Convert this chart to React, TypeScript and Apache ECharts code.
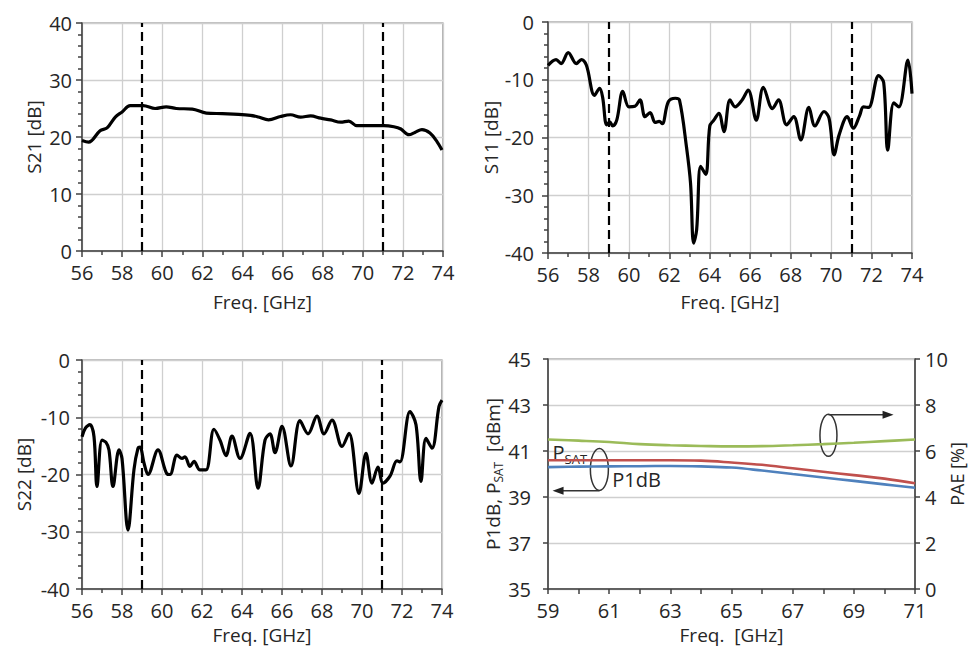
import React, { useEffect, useRef } from "react";
import * as echarts from "echarts";

// ---------- data ----------
const s21Freq = [56, 56.33, 56.9, 57.25, 57.66, 58.0, 58.4, 59.05, 59.65, 60.2, 60.7, 61.5, 62.2, 63.0, 63.55, 64.4, 64.8, 65.3, 65.9, 66.4, 66.9, 67.4, 67.9, 68.4, 68.9, 69.3, 69.7, 70.2, 71.05, 71.55, 71.9, 72.3, 72.6, 72.95, 73.35, 73.7, 73.95];
const s21Db = [19.4, 19.1, 21.1, 21.6, 23.5, 24.4, 25.5, 25.5, 25.0, 25.3, 25.0, 24.9, 24.2, 24.1, 24.0, 23.8, 23.5, 23.0, 23.6, 23.9, 23.5, 23.7, 23.3, 23.0, 22.6, 22.8, 22.0, 22.0, 22.0, 21.8, 21.4, 20.4, 20.8, 21.3, 20.7, 19.2, 17.7];

const s11Freq = [56, 56.4, 56.65, 57.0, 57.4, 57.65, 57.9, 58.3, 58.55, 58.7, 58.9, 59.05, 59.2, 59.4, 59.7, 60.0, 60.3, 60.55, 60.8, 61.05, 61.3, 61.5, 61.65, 61.95, 62.3, 62.5, 62.85, 63.05, 63.2, 63.35, 63.55, 63.8, 64.0, 64.2, 64.45, 64.7, 65.0, 65.25, 65.6, 65.9, 66.3, 66.65, 67.1, 67.4, 67.8, 68.15, 68.5, 68.9, 69.2, 69.65, 69.9, 70.15, 70.4, 70.8, 71.1, 71.4, 71.6, 71.85, 72.35, 72.6, 72.8, 73.1, 73.35, 73.8, 74];
const s11Db = [-7.5, -6.5, -7.2, -5.3, -7.2, -6.5, -7.5, -12.7, -11.5, -13, -17.8, -17.3, -18, -17, -12, -14.7, -14.6, -13.5, -16.4, -15.7, -17.4, -17.2, -17.6, -13.8, -13.2, -13.5, -21.7, -28, -38.3, -36, -25, -26.4, -18, -17, -15.8, -19, -13.5, -14.7, -13.5, -11.8, -17, -11.3, -15, -13.5, -17.8, -16.4, -20.4, -14.8, -18, -15.5, -16.7, -23, -19.5, -16.4, -18.4, -16.3, -14.7, -14.8, -9.3, -10.5, -22.2, -14, -14.7, -6.6, -12.4];

const s22Freq = [56, 56.17, 56.4, 56.6, 56.75, 57.0, 57.2, 57.35, 57.55, 57.85, 58.0, 58.3, 58.6, 58.8, 58.9, 59.1, 59.3, 59.8, 60.25, 60.4, 60.75, 61.0, 61.15, 61.4, 61.6, 61.9, 62.2, 62.6, 62.9, 63.2, 63.5, 63.9, 64.4, 64.8, 65.15, 65.4, 65.65, 66.0, 66.45, 66.9, 67.3, 67.75, 68.1, 68.5, 69.0, 69.35, 69.85, 70.2, 70.5, 70.8, 71.05, 71.4, 71.75, 71.9, 72.4, 72.7, 72.95, 73.2, 73.5, 73.85, 74];
const s22Db = [-13.4, -11.9, -11.3, -13.4, -22.1, -14, -14.4, -15.7, -22.1, -15.7, -17.2, -29.7, -19.1, -15.4, -15.2, -18, -20, -15.7, -19.9, -20, -16.6, -17.2, -16.9, -18.6, -17.7, -19.2, -19.2, -12.1, -14, -16.7, -13.3, -17.2, -12.8, -22.4, -14, -12.9, -16.2, -11.6, -18.5, -10.6, -12.9, -9.8, -12.9, -10.5, -15.1, -12.8, -23.3, -16.3, -21.5, -18.7, -21.5, -20.3, -17.6, -17.8, -9, -11.3, -21.2, -13.7, -15.4, -8.1, -7];

const bandEdges = [59, 71];

const paFreq = [59, 60, 61, 62, 63, 64, 65, 66, 67, 68, 69, 70, 71];
const psatDbm = [40.6, 40.6, 40.6, 40.6, 40.6, 40.58, 40.5, 40.4, 40.25, 40.1, 39.95, 39.8, 39.6];
const p1dbDbm = [40.3, 40.32, 40.33, 40.34, 40.35, 40.33, 40.28, 40.15, 40.0, 39.85, 39.7, 39.55, 39.4];
const paePct = [6.5, 6.45, 6.39, 6.3, 6.25, 6.22, 6.2, 6.21, 6.25, 6.3, 6.36, 6.43, 6.5];

// annotation anchors (data units of the power panel)
const psatLabelAt = [59.15, 41.36];
const p1dbLabelAt = [61.1, 40.2];
const leftEllipseAt = [60.68, 40.2];
const leftArrow = [[60.68, 39.27], [59.15, 39.27]];
const rightEllipseAt = [68.17, 41.68];
const rightArrow = [[68.17, 42.58], [70.3, 42.58]];

const FONT = "'Open Sans', 'Noto Sans', sans-serif";
const TXT = "#262626";
const AXIS = "#404040";
const GRIDC = "#cfcfcf";

const zip = (a: number[], b: number[]) => a.map((x, i) => [x, b[i]]);

function sParamX(gridIndex: number, nameGap: number) {
  return {
    type: "value",
    gridIndex,
    min: 56,
    max: 74,
    interval: 2,
    axisLine: { onZero: false, lineStyle: { color: AXIS, width: 1.5 } },
    axisTick: { show: true, length: 6, lineStyle: { color: AXIS, width: 1.5 } },
    minorTick: { show: true, splitNumber: 2, length: 4, lineStyle: { color: AXIS, width: 1.5 } },
    splitLine: { show: true, lineStyle: { color: GRIDC, width: 1.3 } },
    axisLabel: { fontSize: 20, color: TXT, fontFamily: FONT, margin: 11 },
    name: "Freq. [GHz]",
    nameLocation: "middle",
    nameGap,
    nameTextStyle: { fontSize: 19, color: TXT, fontFamily: FONT },
  };
}

function sParamY(gridIndex: number, min: number, max: number, name: string, nameGap: number, margin: number) {
  return {
    type: "value",
    gridIndex,
    min,
    max,
    interval: 10,
    axisLine: { show: true, onZero: false, lineStyle: { color: AXIS, width: 1.5 } },
    axisTick: { show: true, length: 6, lineStyle: { color: AXIS, width: 1.5 } },
    minorTick: { show: true, splitNumber: 5, length: 4, lineStyle: { color: AXIS, width: 1.5 } },
    splitLine: { show: true, lineStyle: { color: GRIDC, width: 1.3 } },
    axisLabel: { fontSize: 20, color: TXT, fontFamily: FONT, margin },
    name,
    nameLocation: "middle",
    nameGap,
    nameRotate: 90,
    nameTextStyle: { fontSize: 19, color: TXT, fontFamily: FONT },
  };
}

function blackLine(name: string, idx: number, freq: number[], vals: number[]) {
  return {
    name,
    type: "line",
    xAxisIndex: idx,
    yAxisIndex: idx,
    data: zip(freq, vals),
    showSymbol: false,
    smooth: 0.35,
    lineStyle: { color: "#000", width: 3.2 },
    markLine: {
      silent: true,
      symbol: "none",
      label: { show: false },
      lineStyle: { color: "#000", width: 2.2, type: [9, 5] },
      data: bandEdges.map((f) => ({ xAxis: f })),
    },
  };
}

export default function App() {
  const ref = useRef<HTMLDivElement>(null);
  useEffect(() => {
    document.body.style.margin = "0";
    if (!ref.current) return;
    const chart = echarts.init(ref.current, undefined, { renderer: "svg" });
    const gridBase = { show: true, borderColor: "#808080", borderWidth: 1.2, containLabel: false, outerBoundsMode: "none" };
    chart.setOption({
      animation: false,
      backgroundColor: "#fff",
      grid: [
        { ...gridBase, left: 82, top: 23, width: 361, height: 228 },
        { ...gridBase, left: 548, top: 22, width: 364, height: 231 },
        { ...gridBase, left: 82, top: 360, width: 360, height: 229 },
        { ...gridBase, left: 548, top: 359, width: 367, height: 230 },
      ],
      xAxis: [
        sParamX(0, 41),
        sParamX(1, 39),
        sParamX(2, 36),
        {
          type: "value",
          gridIndex: 3,
          min: 59,
          max: 71,
          interval: 2,
          axisLine: { onZero: false, lineStyle: { color: AXIS, width: 1.5 } },
          axisTick: { show: true, length: 5, lineStyle: { color: AXIS, width: 1.5 } },
          minorTick: { show: true, splitNumber: 2, length: 5, lineStyle: { color: AXIS, width: 1.5 } },
          splitLine: { show: false },
          axisLabel: { fontSize: 20, color: TXT, fontFamily: FONT, margin: 11 },
          name: "Freq.  [GHz]",
          nameLocation: "middle",
          nameGap: 36,
          nameTextStyle: { fontSize: 19, color: TXT, fontFamily: FONT },
        },
      ],
      yAxis: [
        sParamY(0, 0, 40, "S21 [dB]", 39, 10),
        sParamY(1, -40, 0, "S11 [dB]", 46, 14),
        sParamY(2, -40, 0, "S22 [dB]", 49, 12),
        {
          type: "value",
          gridIndex: 3,
          min: 35,
          max: 45,
          interval: 2,
          axisLine: { show: true, onZero: false, lineStyle: { color: AXIS, width: 1.5 } },
          axisTick: { show: true, length: 5, lineStyle: { color: AXIS, width: 1.5 } },
          splitLine: { show: true, lineStyle: { color: GRIDC, width: 1.3 } },
          axisLabel: { fontSize: 20, color: TXT, fontFamily: FONT, margin: 17 },
          name: "{n|P1dB, P}{s|SAT}{n|  [dBm]}",
          nameLocation: "middle",
          nameGap: 44,
          nameRotate: 90,
          nameTextStyle: {
            color: TXT,
            fontFamily: FONT,
            fontSize: 19,
            rich: {
              n: { fontSize: 19, color: TXT, fontFamily: FONT, verticalAlign: "top", lineHeight: 19 },
              s: { fontSize: 12, color: TXT, fontFamily: FONT, verticalAlign: "top", lineHeight: 12, padding: [9, 0, 0, 0] },
            },
          },
        },
        {
          type: "value",
          gridIndex: 3,
          position: "right",
          min: 0,
          max: 10,
          interval: 2,
          axisLine: { show: true, onZero: false, lineStyle: { color: AXIS, width: 1.5 } },
          axisTick: { show: true, length: 5, lineStyle: { color: AXIS, width: 1.5 } },
          splitLine: { show: false },
          axisLabel: { fontSize: 20, color: TXT, fontFamily: FONT, margin: 10 },
          name: "PAE [%]",
          nameLocation: "middle",
          nameGap: 33,
          nameMoveOverlap: false,
          nameRotate: 90,
          nameTextStyle: { fontSize: 18, color: TXT, fontFamily: FONT },
        },
      ],
      series: [
        blackLine("S21", 0, s21Freq, s21Db),
        blackLine("S11", 1, s11Freq, s11Db),
        blackLine("S22", 2, s22Freq, s22Db),
        {
          name: "PAE",
          type: "line",
          xAxisIndex: 3,
          yAxisIndex: 4,
          data: zip(paFreq, paePct),
          showSymbol: false,
          smooth: 0.4,
          lineStyle: { color: "#9BBB59", width: 2.6 },
        },
        {
          name: "PSAT",
          type: "line",
          xAxisIndex: 3,
          yAxisIndex: 3,
          data: zip(paFreq, psatDbm),
          showSymbol: false,
          smooth: 0.4,
          lineStyle: { color: "#C0504D", width: 2.6 },
        },
        {
          name: "P1dB",
          type: "line",
          xAxisIndex: 3,
          yAxisIndex: 3,
          data: zip(paFreq, p1dbDbm),
          showSymbol: false,
          smooth: 0.4,
          lineStyle: { color: "#4F81BD", width: 2.6 },
        },
      ],
    });

    const px = (p: number[]) => chart.convertToPixel({ xAxisIndex: 3, yAxisIndex: 3 }, p) as number[];
    const stroke = { stroke: "#333", lineWidth: 1.5, fill: "none" };
    const arrow = (from: number[], to: number[]) => {
      const a = px(from);
      const b = px(to);
      const dir = Math.sign(b[0] - a[0]);
      const tip = b;
      return [
        { type: "line", shape: { x1: a[0], y1: a[1], x2: b[0] - dir * 8, y2: b[1] }, style: { stroke: "#333", lineWidth: 1.5 } },
        {
          type: "polygon",
          shape: { points: [[tip[0], tip[1]], [tip[0] - dir * 11, tip[1] - 4], [tip[0] - dir * 11, tip[1] + 4]] },
          style: { fill: "#222" },
        },
      ];
    };
    const le = px(leftEllipseAt);
    const re = px(rightEllipseAt);
    const ps = px(psatLabelAt);
    const pd = px(p1dbLabelAt);
    chart.setOption({
      graphic: [
        { type: "ellipse", shape: { cx: le[0], cy: le[1], rx: 9, ry: 21 }, style: stroke },
        { type: "ellipse", shape: { cx: re[0], cy: re[1], rx: 8.5, ry: 21 }, style: stroke },
        ...arrow(leftArrow[0], leftArrow[1]),
        ...arrow(rightArrow[0], rightArrow[1]),
        {
          type: "text",
          x: ps[0],
          y: ps[1],
          style: {
            text: "{a|P}{b|SAT}",
            rich: {
              a: { fontSize: 20, fontFamily: FONT, fill: TXT, verticalAlign: "top", lineHeight: 20 },
              b: { fontSize: 13, fontFamily: FONT, fill: TXT, verticalAlign: "top", lineHeight: 13, padding: [10, 0, 0, 0] },
            },
          },
        },
        {
          type: "text",
          x: pd[0],
          y: pd[1],
          style: { text: "P1dB", fontSize: 20, fontFamily: FONT, fill: TXT, verticalAlign: "top" },
        },
      ],
    });

    return () => chart.dispose();
  }, []);
  return <div ref={ref} style={{ width: 971, height: 648 }} />;
}
